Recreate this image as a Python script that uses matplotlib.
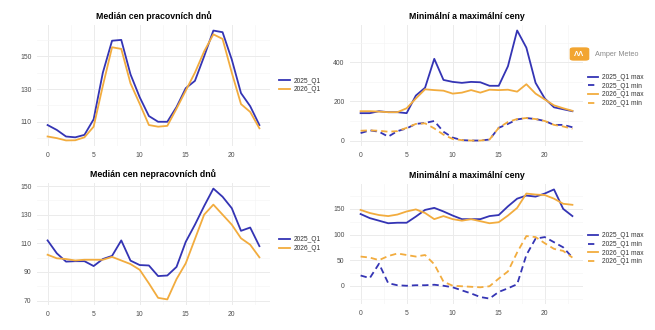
import numpy as np
import matplotlib
matplotlib.use("Agg")
from matplotlib import pyplot as plt
from matplotlib.patches import FancyBboxPatch

plt.rcParams['font.family'] = ['Liberation Sans', 'DejaVu Sans']

# hours of day
hours = np.arange(24)

# median, working days
work_2025 = [108, 105, 101, 100.5, 102, 111.5, 140, 159.5, 160, 139, 125, 113.5,
             110, 110, 119, 130.5, 135, 150, 165.7, 164.7, 148, 127.5, 119.5, 108]
work_2026 = [101, 100, 98.6, 98.7, 100.5, 107, 132, 155.5, 154.5, 133.5, 121, 108,
             107, 107.5, 118, 129, 140, 153, 163.4, 160.6, 140, 120.8, 116, 106]

# median, non-working days
free_2025 = [112, 103, 97.2, 97.5, 97.5, 94.1, 99, 101.2, 112, 97.9, 94.8, 94.5,
             87.1, 87.5, 93.5, 111, 123, 136, 148.2, 142.5, 134.5, 118.7, 121, 108]
free_2026 = [102, 99.5, 99, 98, 98.5, 98.5, 98.5, 100.5, 98, 95.5, 91.5, 82,
             71.9, 70.8, 85, 96, 113, 130, 137, 130, 123, 113.5, 109, 100.2]

# min / max, working days
work_max_2025 = [140, 140, 150, 145, 145, 140, 230, 270, 418, 310, 300, 295,
                 300, 298, 280, 280, 380, 563, 475, 295, 215, 170, 160, 150]
work_min_2025 = [38, 52, 45, 20, 48, 62, 85, 90, 100, 45, 15, 2,
                 0, 0, 5, 65, 85, 108, 115, 110, 100, 80, 80, 68]
work_max_2026 = [150, 150, 148, 145, 145, 165, 215, 262, 258, 255, 240, 245,
                 258, 245, 260, 258, 260, 250, 288, 240, 210, 180, 165, 152]
work_min_2026 = [50, 52, 50, 45, 48, 65, 85, 88, 62, 30, 8, 2,
                 0, 0, 5, 65, 95, 110, 115, 110, 100, 80, 72, 60]

# min / max, non-working days
free_max_2025 = [140, 132, 127, 122, 123, 123, 135, 148, 152, 145, 137, 130,
                 130, 130, 136, 138, 155, 170, 176, 174, 180, 188, 150, 136]
free_min_2025 = [20, 15, 43, 5, 1, 0, 1, 1, 2, 0, -3, -9,
                 -15, -22, -25, -12, -5, 3, 60, 92, 95, 85, 75, 55]
free_max_2026 = [148, 142, 138, 136, 139, 145, 149, 142, 130, 136, 130, 127,
                 130, 126, 122, 124, 137, 152, 180, 178, 177, 170, 160, 158]
free_min_2026 = [57, 55, 50, 58, 63, 60, 57, 60, 42, 8, 0, -1,
                 -2, -3, -1, 14, 28, 65, 97, 95, 83, 72, 68, 55]

BLUE = "#3434B4"
ORANGE = "#F2AC3E"
W, H = 655, 330
DASH = (0, (3.5, 2.2))

fig = plt.figure(figsize=(W / 100, H / 100), dpi=100)
fig.patch.set_facecolor("white")


def px_axes(l, t, r, b):
    return fig.add_axes([l / W, 1 - b / H, (r - l) / W, (b - t) / H])


def style(ax, title, yticks, yminor):
    ax.set_facecolor("white")
    for s in ax.spines.values():
        s.set_visible(False)
    ax.set_xlim(-1.15, 24.15)
    ax.set_xticks([0, 5, 10, 15, 20])
    ax.set_xticks([2.5, 7.5, 12.5, 17.5, 22.5], minor=True)
    ax.set_yticks(yticks)
    ax.set_yticks(yminor, minor=True)
    ax.tick_params(which="both", length=0, labelsize=4.9, labelcolor="#4D4D4D", pad=4)
    ax.grid(which="major", color="#EBEBEB", lw=0.7)
    ax.grid(which="minor", color="#F4F4F4", lw=0.45)
    ax.set_axisbelow(True)
    ax.set_title(title, fontsize=6.3, fontweight="bold", pad=4)


# top-left
ax1 = px_axes(37, 25, 270, 146)
ax1.plot(hours, work_2025, color=BLUE, lw=1.3, label="2025_Q1")
ax1.plot(hours, work_2026, color=ORANGE, lw=1.3, label="2026_Q1")
ax1.set_ylim(95.2, 169.1)
style(ax1, "Medián cen pracovních dnů", [110, 130, 150], [100, 120, 140, 160])

# bottom-left
ax2 = px_axes(37, 183, 270, 305)
ax2.plot(hours, free_2025, color=BLUE, lw=1.3, label="2025_Q1")
ax2.plot(hours, free_2026, color=ORANGE, lw=1.3, label="2026_Q1")
ax2.set_ylim(66.9, 152.1)
style(ax2, "Medián cen nepracovních dnů", [70, 90, 110, 130, 150], [80, 100, 120, 140])

# top-right
ax3 = px_axes(350, 25, 583, 146)
ax3.plot(hours, work_max_2025, color=BLUE, lw=1.3, label="2025_Q1 max")
ax3.plot(hours, work_min_2025, color=BLUE, lw=1.3, ls=DASH, label="2025_Q1 min")
ax3.plot(hours, work_max_2026, color=ORANGE, lw=1.3, label="2026_Q1 max")
ax3.plot(hours, work_min_2026, color=ORANGE, lw=1.3, ls=DASH, label="2026_Q1 min")
ax3.set_ylim(-28, 591)
style(ax3, "Minimální a maximální ceny", [0, 200, 400], [100, 300, 500])

# bottom-right
ax4 = px_axes(350, 184, 583, 304)
ax4.plot(hours, free_max_2025, color=BLUE, lw=1.3, label="2025_Q1 max")
ax4.plot(hours, free_min_2025, color=BLUE, lw=1.3, ls=DASH, label="2025_Q1 min")
ax4.plot(hours, free_max_2026, color=ORANGE, lw=1.3, label="2026_Q1 max")
ax4.plot(hours, free_min_2026, color=ORANGE, lw=1.3, ls=DASH, label="2026_Q1 min")
ax4.set_ylim(-35.6, 198.6)
style(ax4, "Minimální a maximální ceny", [0, 50, 100, 150], [-25, 25, 75, 125, 175])

for ax, anchor in ((ax1, (1.02, 0.5)), (ax2, (1.02, 0.5)),
                   (ax3, (1.0, 0.46)), (ax4, (1.0, 0.46))):
    leg = ax.legend(loc="center left", bbox_to_anchor=anchor, frameon=False,
                    fontsize=4.8, handlelength=1.6, handletextpad=0.5, labelspacing=0.25,
                    borderpad=0.2)
    for t in leg.get_texts():
        t.set_color("#333333")

# logo
logo = FancyBboxPatch((571 / W, 1 - 60 / H), 17 / W, 12 / H,
                      boxstyle="round,pad=0.002,rounding_size=0.006",
                      transform=fig.transFigure, facecolor="#F2A531", edgecolor="none")
fig.patches.append(logo)
fig.text(579.5 / W, 1 - 54 / H, "ΛΛ", color="white", fontsize=5.5, fontweight="bold",
         ha="center", va="center")
fig.text(595 / W, 1 - 54 / H, "Amper Meteo", color="#8A8A8A", fontsize=5.2,
         ha="left", va="center")

fig.savefig("out.png", dpi=100, facecolor="white")
